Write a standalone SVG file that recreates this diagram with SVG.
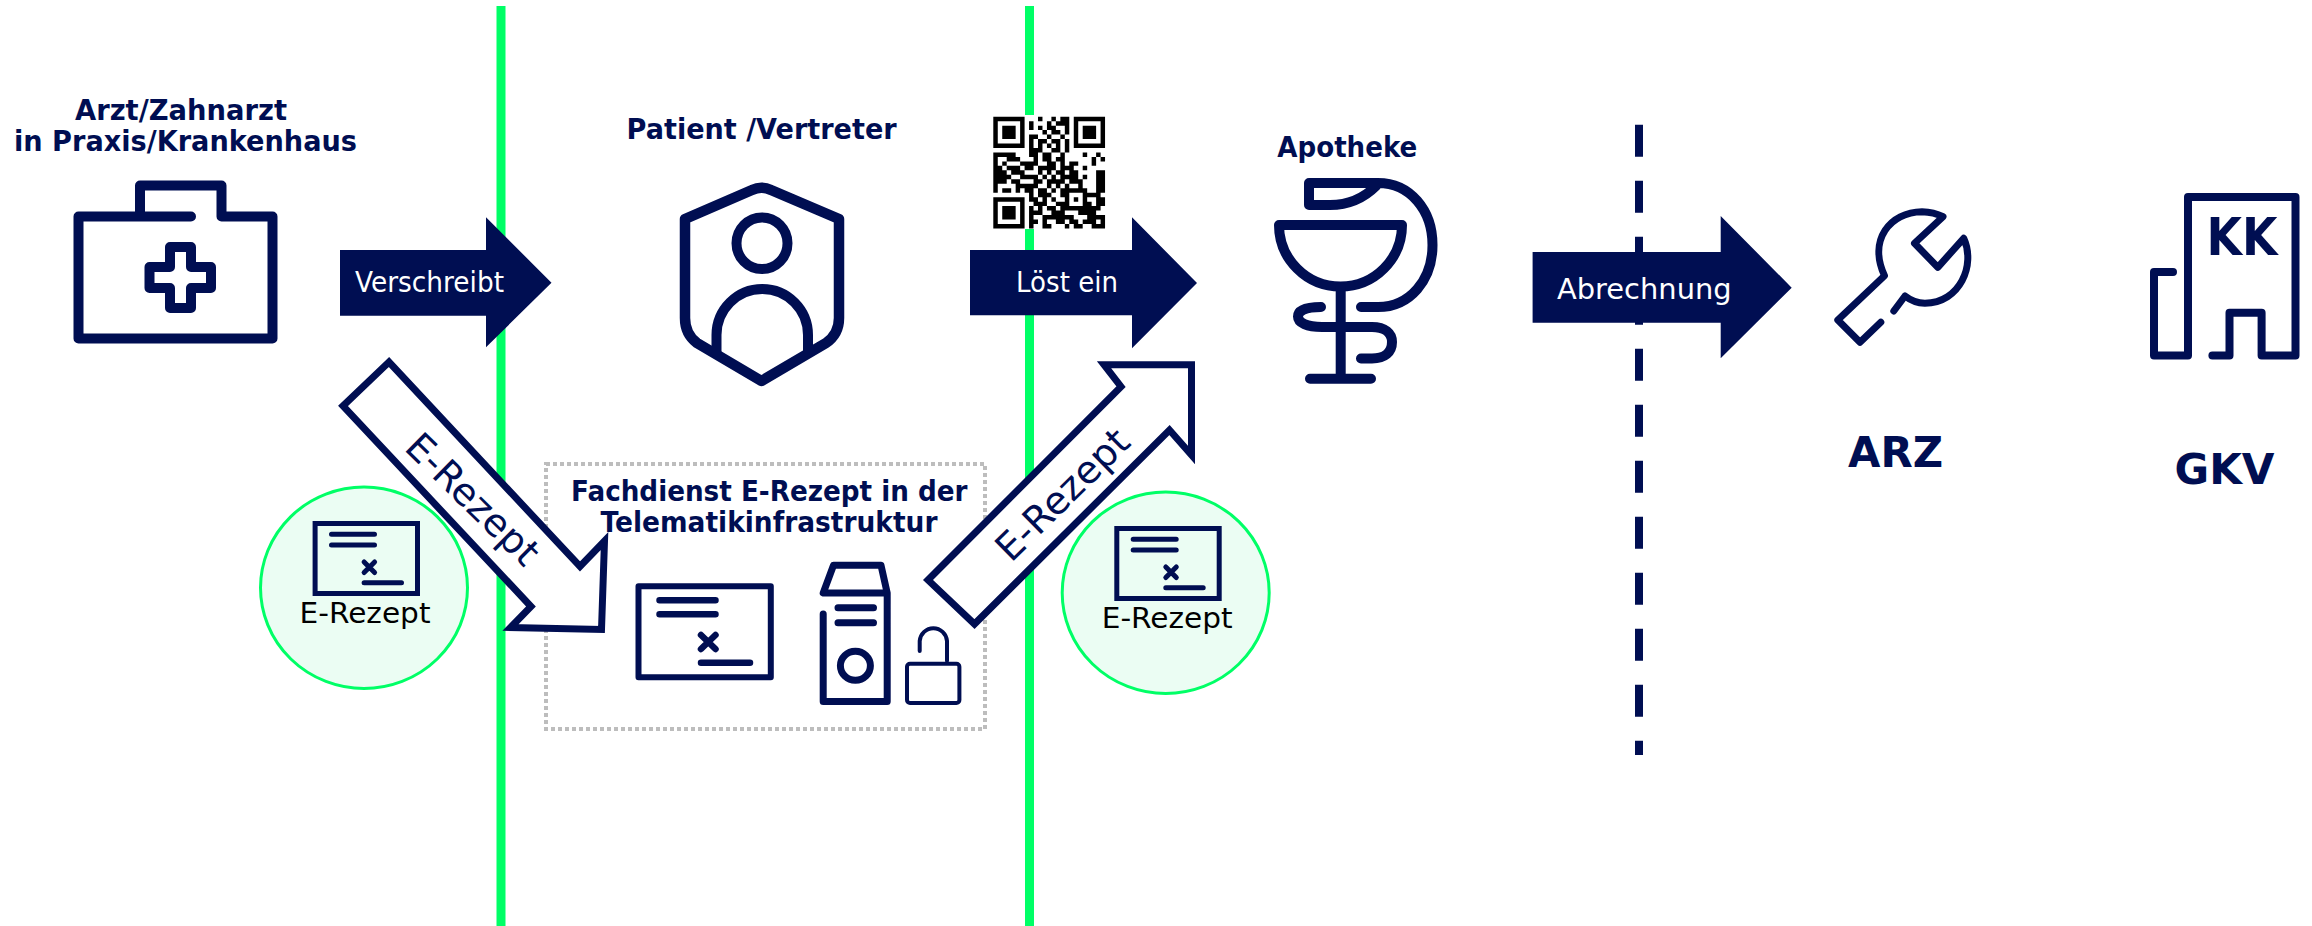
<svg xmlns="http://www.w3.org/2000/svg" width="2312" height="926" viewBox="0 0 2312 926">
<style>
text{font-family:"DejaVu Sans","Liberation Sans",sans-serif}
.b{font-weight:700;fill:#000e52}
.w{fill:#fff}
.k{fill:#000}
.ic{fill:none;stroke:#000e52;stroke-linecap:round;stroke-linejoin:round}
.solid{fill:#000e52}
.out{fill:#fff;stroke:#000e52;stroke-width:7;stroke-linejoin:miter;stroke-miterlimit:8}
.g{stroke:#00ff66;stroke-width:9}
.c{fill:#ebfdf3;stroke:#00ff66;stroke-width:3}
</style>
<defs>
<g id="doc" class="ic" stroke-width="5">
<rect x="2.5" y="2.5" width="102.4" height="70" stroke-linejoin="miter"/>
<path d="M18.9 13.3H61.9M18.9 24H61.9M51.5 41L62 51.5M62 41L51.5 51.5M51.5 61.7H88.9"/>
</g>
</defs>
<rect width="2312" height="926" fill="#fff"/>
<g id="swimlanes">
<line class="g" x1="501" y1="6" x2="501" y2="926"/>
<line class="g" x1="1029.5" y1="6" x2="1029.5" y2="926"/>
<line x1="1639" y1="124.7" x2="1639" y2="755" stroke="#000e52" stroke-width="8" stroke-dasharray="32 24"/>
</g>
<g id="node-arzt">
<text class="b" x="181" y="120" font-size="27.5" text-anchor="middle" textLength="212" lengthAdjust="spacingAndGlyphs">Arzt/Zahnarzt</text>
<text class="b" x="185.500" y="150.700" font-size="27.5" text-anchor="middle" textLength="343" lengthAdjust="spacingAndGlyphs">in Praxis/Krankenhaus</text>
<path class="ic" stroke-width="10" d="M191 216.500H78.500V338.500H272.500V216.500H221.500V185.500H140V216.500"/>
<path class="ic" stroke-width="10" d="M170 247H191V267H211V288H191V308H170V288H149.500V267H170Z"/>
</g>
<g id="node-patient">
<text class="b" x="761.600" y="139" font-size="27.5" text-anchor="middle" textLength="270" lengthAdjust="spacingAndGlyphs">Patient /Vertreter</text>
<path class="ic" stroke-width="10.500" d="M685 219L752 190Q761.500 185.500 771 190L839 219V318Q839 334 826 343L761.500 381L697 343Q685 334 685 318Z"/>
<ellipse class="ic" stroke-width="10" cx="762" cy="243.300" rx="25.500" ry="25.800"/>
<path class="ic" stroke-width="10" d="M716.500 352V335A45.700 46 0 0 1 808 335V352"/>
</g>
<g id="node-qr">
<rect x="990" y="115" width="118" height="114" fill="#fff"/>
<g transform="translate(993.300,116.700) scale(4.47)">
<path fill="none" stroke="#000" stroke-width="1" d="M0 .5h7M10 .5h1M13 .5h1M15 .5h2M18 .5h7
M0 1.500h1M6 1.500h1M8 1.500h1M12 1.500h1M14 1.500h3M18 1.500h1M24 1.500h1
M0 2.500h1M2 2.500h3M6 2.500h1M8 2.500h1M10 2.500h1M12 2.500h2M16 2.500h1M18 2.500h1M20 2.500h3M24 2.500h1
M0 3.500h1M2 3.500h3M6 3.500h1M11 3.500h1M13 3.500h2M16 3.500h1M18 3.500h1M20 3.500h3M24 3.500h1
M0 4.500h1M2 4.500h3M6 4.500h1M8 4.500h2M12 4.500h1M15 4.500h1M18 4.500h1M20 4.500h3M24 4.500h1
M0 5.500h1M6 5.500h1M8 5.500h1M10 5.500h2M13 5.500h2M16 5.500h1M18 5.500h1M24 5.500h1
M0 6.500h7M8 6.500h1M10 6.500h1M12 6.500h1M14 6.500h1M16 6.500h1M18 6.500h7
M8 7.500h3M13 7.500h2M16 7.500h1
M0 8.500h5M8 8.500h2M11 8.500h2M15 8.500h1M20 8.500h1M23 8.500h1
M0 9.500h1M3 9.500h3M9 9.500h1M11 9.500h2M14 9.500h2M22 9.500h1M24 9.500h1
M0 10.500h1M2 10.500h1M6 10.500h4M12 10.500h2M15 10.500h1M17 10.500h2M22 10.500h1
M0 11.500h2M3 11.500h3M7 11.500h2M10 11.500h4M15 11.500h3M20 11.500h1
M0 12.500h3M4 12.500h3M10 12.500h1M12 12.500h1M14 12.500h2M17 12.500h2M23 12.500h2
M0 13.500h4M6 13.500h4M11 13.500h1M13 13.500h1M15 13.500h4M20 13.500h1M23 13.500h2
M0 14.500h3M4 14.500h2M9 14.500h2M12 14.500h4M17 14.500h3M23 14.500h2
M0 15.500h1M5 15.500h5M12 15.500h1M14 15.500h1M16 15.500h1M19 15.500h1M23 15.500h2
M0 16.500h1M2 16.500h2M5 16.500h1M7 16.500h2M10 16.500h2M13 16.500h1M15 16.500h6M23 16.500h2
M8 17.500h1M10 17.500h3M15 17.500h2M20 17.500h4
M0 18.500h7M8 18.500h2M11 18.500h1M13 18.500h1M16 18.500h1M18 18.500h1M20 18.500h1M23 18.500h2
M0 19.500h1M6 19.500h1M9 19.500h3M14 19.500h3M20 19.500h2M23 19.500h2
M0 20.500h1M2 20.500h3M6 20.500h1M8 20.500h1M10 20.500h1M12 20.500h2M15 20.500h9
M0 21.500h1M2 21.500h3M6 21.500h1M8 21.500h3M13 21.500h3M19 21.500h4
M0 22.500h1M2 22.500h3M6 22.500h1M8 22.500h1M11 22.500h7M21 22.500h4
M0 23.500h1M6 23.500h1M8 23.500h2M11 23.500h1M14 23.500h2M17 23.500h2M20 23.500h3M24 23.500h1
M0 24.500h7M8 24.500h1M11 24.500h2M16 24.500h1M18 24.500h2M22 24.500h3"/>
</g>
</g>
<g id="node-apotheke">
<text class="b" x="1347.300" y="156.700" font-size="27.5" text-anchor="middle" textLength="140" lengthAdjust="spacingAndGlyphs">Apotheke</text>
<g class="ic" stroke-width="10">
<path d="M1279 225H1402A61.500 61.500 0 0 1 1279 225Z"/>
<path d="M1340.700 287V378.700M1310 378.700H1371"/>
<path d="M1376 186C1365 197 1350 205 1330 205H1309V183H1378C1410 183 1432.500 210 1432.500 245C1432.500 280 1410 307 1378 307H1361"/>
<path d="M1321 307C1305 307 1298 311 1298 316.500C1298 323 1307 327 1322 327H1372C1385 327 1392 333 1392 342C1392 352 1385 358.500 1372 358.500H1361"/>
</g>
</g>
<g id="node-arz">
<path class="ic" stroke-width="7" d="M1880.800 322.300L1860 342.300L1837.800 320L1884.500 275.700C1868 240 1890 212 1922 211.700Q1934 212 1943 216.700L1914.500 243.300L1937.800 267.300L1963.700 238.300C1976 265 1960 303 1924.900 303.300Q1914 303 1905 296L1893.800 311"/>
<text class="b" x="1895.500" y="466.700" font-size="42" text-anchor="middle" textLength="95" lengthAdjust="spacingAndGlyphs">ARZ</text>
</g>
<g id="node-gkv">
<path class="ic" stroke-width="8" d="M2173 272H2154V355.500H2188V197H2295.500V355.500H2261.600V312.700H2229.500V355.500H2212.400"/>
<text class="b" x="2242" y="255" font-size="52" text-anchor="middle" textLength="71" lengthAdjust="spacingAndGlyphs">KK</text>
<text class="b" x="2224.500" y="484" font-size="42" text-anchor="middle" textLength="100" lengthAdjust="spacingAndGlyphs">GKV</text>
</g>
<g id="node-fachdienst">
<rect x="546" y="464" width="439" height="265" fill="none" stroke="#bdbdbd" stroke-width="4" stroke-dasharray="4 3"/>
<text class="b" x="769.300" y="500.700" font-size="27.5" text-anchor="middle" textLength="396.500" lengthAdjust="spacingAndGlyphs">Fachdienst E-Rezept in der</text>
<text class="b" x="769" y="531.700" font-size="27.5" text-anchor="middle" textLength="337" lengthAdjust="spacingAndGlyphs">Telematikinfrastruktur</text>
<rect class="ic" stroke-width="6" x="638.500" y="586.300" width="132.300" height="91"/>
<path class="ic" stroke-width="6.500" d="M659.500 600.300H715.500M659.500 614.300H715.500M701 635L715.500 649M715.500 635L701 649M701 662.700H750"/>
<path class="ic" stroke-width="7" d="M823.200 593H887.200L881 565.200H833.500ZM823.200 614V701.500H887.200V593M838 607.700H873.500M838 622.700H873.500"/>
<ellipse class="ic" stroke-width="7" cx="855.400" cy="665.700" rx="15" ry="14.500"/>
<rect class="ic" stroke-width="4" x="907" y="663.700" width="52.400" height="39.300" rx="3"/>
<path class="ic" stroke-width="4" d="M919.700 651V641A13.700 14 0 0 1 947 641V661"/>
</g>
<g id="node-erezept-1">
<ellipse class="c" cx="364" cy="587.800" rx="103.500" ry="100.700"/>
<use href="#doc" transform="translate(312.600,521)"/>
<text class="k" x="365" y="623.300" font-size="29" text-anchor="middle" textLength="131" lengthAdjust="spacingAndGlyphs">E-Rezept</text>
</g>
<g id="node-erezept-2">
<ellipse class="c" cx="1165.700" cy="592.800" rx="103.500" ry="100.700"/>
<use href="#doc" transform="translate(1114.300,526)"/>
<text class="k" x="1167.200" y="628.300" font-size="29" text-anchor="middle" textLength="131" lengthAdjust="spacingAndGlyphs">E-Rezept</text>
</g>
<g id="connectors">
<path class="solid" d="M340 250H486V217.300L551.500 282.700L486 347.300V315.700H340Z"/>
<text class="w" x="429.500" y="292" font-size="27.5" text-anchor="middle" textLength="149" lengthAdjust="spacingAndGlyphs">Verschreibt</text>
<path class="solid" d="M970 250H1132V217.300L1197 283L1132 348.300V315.300H970Z"/>
<text class="w" x="1067" y="292.300" font-size="27.5" text-anchor="middle" textLength="102" lengthAdjust="spacingAndGlyphs">Löst ein</text>
<path class="solid" d="M1532.600 252H1720.700V216L1791.700 287.700L1720.700 358.300V322.700H1532.600Z"/>
<text class="w" x="1644.300" y="299" font-size="29" text-anchor="middle" textLength="174.600" lengthAdjust="spacingAndGlyphs">Abrechnung</text>
<path class="out" d="M389 362L343 406L531 606.500L510.500 627.500L601.500 629.500L604.500 541L580 566.500Z"/>
<text fill="#000e52" font-size="38" x="403" y="449" transform="rotate(44.500 403 449)" textLength="170" lengthAdjust="spacingAndGlyphs">E-Rezept</text>
<path class="out" d="M1104 364.700H1191.500V455L1169.500 430L974.500 624L928 580L1121 386.700Z"/>
<text fill="#000e52" font-size="38" x="1011" y="563.500" transform="rotate(-44.500 1011 563.500)" textLength="170" lengthAdjust="spacingAndGlyphs">E-Rezept</text>
</g>
</svg>
